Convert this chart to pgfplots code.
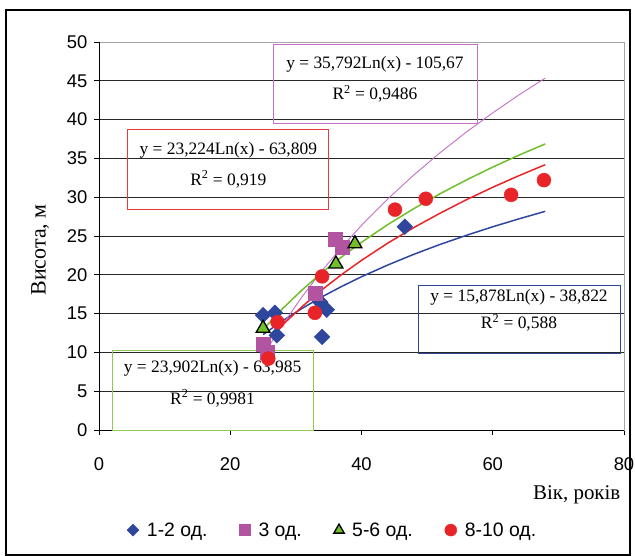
\documentclass[border=0pt]{standalone}
\usepackage{fontspec}
\setmainfont{Liberation Sans}
\newfontfamily\serif{Liberation Serif}
\usepackage{pgfplots}
\pgfplotsset{compat=1.18}

\definecolor{sblue}{RGB}{46,70,156}
\definecolor{smag}{RGB}{178,84,160}
\definecolor{smagl}{RGB}{196,110,196}
\definecolor{sgreen}{RGB}{112,190,40}
\definecolor{sred}{RGB}{232,36,40}

\begin{document}
\begin{tikzpicture}
\path[use as bounding box] (-99bp,-126bp) rectangle (536bp,430bp);
\begin{axis}[
    scale only axis, width=525bp, height=388bp,
    xmin=0, xmax=80, ymin=0, ymax=50,
    xtick={0,20,...,80}, ytick={0,5,...,50},
    tick align=outside, xtick pos=bottom, ytick pos=left,
    major tick length=5bp,
    tick style={black, line width=0.8pt},
    ymajorgrids, grid style={black!85, line width=0.8pt},
    axis line style={gray!70, line width=1pt},
    ticklabel style={font=\fontsize{18.5}{20}\selectfont},
    /pgf/number format/assume math mode=true,
    xticklabel style={yshift=-19bp},
    yticklabel style={xshift=-3bp},
    xlabel={Вік, років}, ylabel={Висота, м},
    xlabel style={font=\serif\fontsize{21}{24}\selectfont, at={(axis description cs:0.91,-0.168)}, anchor=center},
    ylabel style={font=\serif\fontsize{22}{24}\selectfont, at={(axis description cs:-0.112,0.464)}, anchor=center},
    legend columns=4,
    legend image code/.code={\draw[#1] plot coordinates {(0.12cm,0cm)};},
    legend style={at={(axis description cs:0.445,-0.258)}, anchor=center, draw=none,
        font=\fontsize{19.5}{21}\selectfont, inner xsep=0pt,
        /tikz/every odd column/.append style={column sep=6bp},
        /tikz/every even column/.append style={column sep=30bp}},
]
% data points
\addplot[only marks, mark=square*, mark options={rotate=45}, mark size=5.6bp, color=sblue,
    legend image post style={mark size=4.2bp}] coordinates {
(25.0,14.8)(26.8,15.1)(27.1,12.2)(33.7,16.5)(34.7,15.5)(34.0,12.0)(46.6,26.2)};
\addlegendentry{1-2 од.}
\addplot[only marks, mark=square*, mark size=7bp, color=smag,
    legend image post style={mark size=5.5bp}] coordinates {
(25.0,11.0)(25.7,10.0)(32.9,17.6)(36.0,24.6)(37.0,23.6)};
\addlegendentry{3 од.}
\addplot[only marks, mark=triangle*, mark size=8bp, fill=sgreen, draw=black, line width=1.3pt,
    legend image post style={mark size=6bp}] coordinates {
(25.0,13.1)(36.1,21.4)(39.0,24.0)};
\addlegendentry{5-6 од.}
\addplot[only marks, mark=*, mark size=7bp, color=sred,
    legend image post style={mark size=6bp}] coordinates {
(25.8,9.2)(27.2,13.9)(32.9,15.1)(34.0,19.8)(45.1,28.4)(49.8,29.8)(62.8,30.3)(67.8,32.2)};
\addlegendentry{8-10 од.}
% trend lines
\addplot[forget plot, sblue, line width=1.5pt] coordinates {
(25,12.29)(28,14.09)(31,15.70)(34,17.17)(37,18.51)(40,19.75)(44,21.26)(48,22.65)(52,23.92)(56,25.09)(60,26.19)(64,27.21)(68,28.18)};
\addplot[forget plot, smagl, line width=0.9pt] coordinates {
(26,10.94)(28,13.60)(31,17.24)(34,20.55)(37,23.57)(40,26.37)(44,29.78)(48,32.89)(52,35.75)(56,38.41)(60,40.87)(64,43.19)(68,45.35)};
\addplot[forget plot, sgreen, line width=1.5pt] coordinates {
(25,12.95)(28,15.66)(31,18.09)(34,20.30)(37,22.32)(40,24.19)(44,26.47)(48,28.54)(52,30.46)(56,32.23)(60,33.88)(64,35.42)(68,36.87)};
\addplot[forget plot, sred, line width=1.5pt] coordinates {
(25,10.95)(28,13.58)(31,15.94)(34,18.09)(37,20.05)(40,21.86)(44,24.08)(48,26.10)(52,27.95)(56,29.68)(60,31.28)(64,32.78)(68,34.19)};
% left and bottom axis lines
\draw[black, line width=1pt] (axis cs:0,0) -- (axis cs:0,50);
\draw[black, line width=1pt] (axis cs:0,0) -- (axis cs:80,0);
% equation boxes
\draw[smagl, line width=0.8pt] (axis cs:26.5,39.5) rectangle (axis cs:57.6,49.7);
\node[font=\serif\fontsize{17.5}{19}\selectfont] at (axis cs:42.05,47.1) {y = 35,792Ln(x) - 105,67};
\node[font=\serif\fontsize{17.5}{19}\selectfont] at (axis cs:42.05,43.3) {R\textsuperscript{2} = 0,9486};
\draw[sred!90, line width=0.8pt] (axis cs:4.4,28.4) rectangle (axis cs:35.0,38.7);
\node[font=\serif\fontsize{17.5}{19}\selectfont] at (axis cs:19.7,36.0) {y = 23,224Ln(x) - 63,809};
\node[font=\serif\fontsize{17.5}{19}\selectfont] at (axis cs:19.7,32.3) {R\textsuperscript{2} = 0,919};
\draw[sblue, line width=0.8pt] (axis cs:48.6,9.9) rectangle (axis cs:79.4,18.6);
\node[font=\serif\fontsize{17.5}{19}\selectfont] at (axis cs:64.0,17.1) {y = 15,878Ln(x) - 38,822};
\node[font=\serif\fontsize{17.5}{19}\selectfont] at (axis cs:64.0,13.8) {R\textsuperscript{2} = 0,588};
\draw[sgreen!80!white, line width=0.8pt] (axis cs:2.0,0) rectangle (axis cs:32.6,10.3);
\node[font=\serif\fontsize{17.5}{19}\selectfont] at (axis cs:17.3,7.9) {y = 23,902Ln(x) - 63,985};
\node[font=\serif\fontsize{17.5}{19}\selectfont] at (axis cs:17.3,4.1) {R\textsuperscript{2} = 0,9981};
\end{axis}
\draw[black, line width=1.6bp] (-93bp,420bp) rectangle (531bp,-125bp);
\end{tikzpicture}
\end{document}
